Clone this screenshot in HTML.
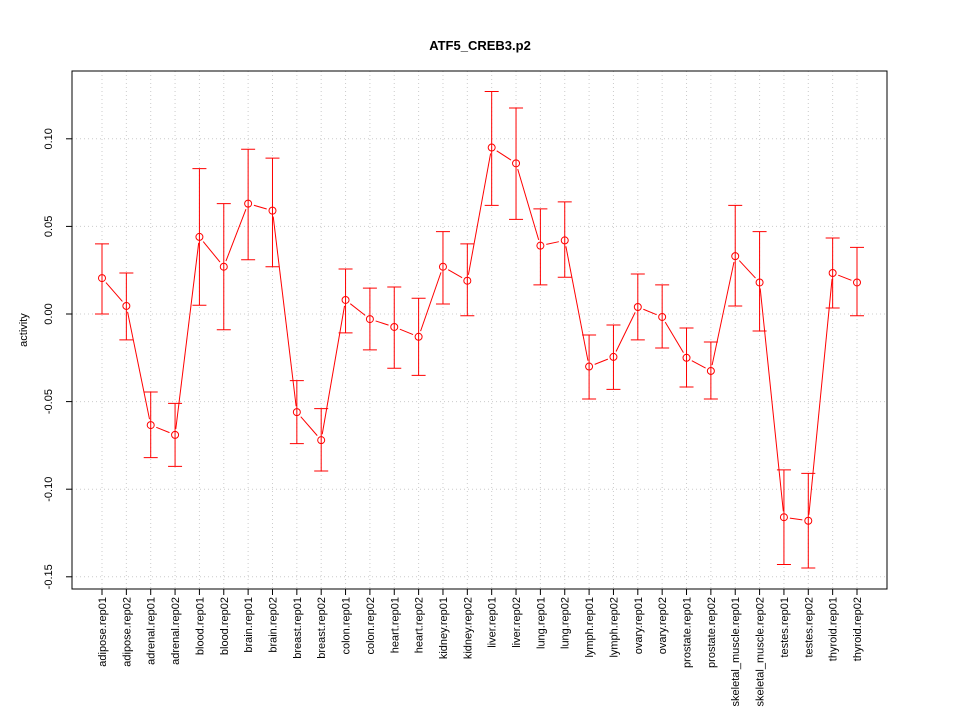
<!DOCTYPE html>
<html><head><meta charset="utf-8"><style>body{margin:0;background:#fff}svg{display:block;font-family:"Liberation Sans",sans-serif}</style></head>
<body>
<svg id="c" width="960" height="720"></svg>
<script>
const categories=["adipose.rep01","adipose.rep02","adrenal.rep01","adrenal.rep02","blood.rep01","blood.rep02","brain.rep01","brain.rep02","breast.rep01","breast.rep02","colon.rep01","colon.rep02","heart.rep01","heart.rep02","kidney.rep01","kidney.rep02","liver.rep01","liver.rep02","lung.rep01","lung.rep02","lymph.rep01","lymph.rep02","ovary.rep01","ovary.rep02","prostate.rep01","prostate.rep02","skeletal_muscle.rep01","skeletal_muscle.rep02","testes.rep01","testes.rep02","thyroid.rep01","thyroid.rep02"];
const values=[0.0205,0.0046,-0.0634,-0.069,0.044,0.027,0.063,0.059,-0.056,-0.072,0.008,-0.0029,-0.0074,-0.013,0.027,0.019,0.095,0.086,0.039,0.042,-0.030,-0.0245,0.004,-0.0017,-0.025,-0.0325,0.033,0.018,-0.116,-0.118,0.0234,0.018];
const upper=[0.040,0.0234,-0.0445,-0.051,0.083,0.063,0.094,0.089,-0.038,-0.054,0.0257,0.0148,0.0154,0.009,0.047,0.040,0.127,0.1176,0.060,0.064,-0.012,-0.0063,0.0228,0.0166,-0.008,-0.016,0.062,0.047,-0.089,-0.091,0.0434,0.038];
const lower=[0.000,-0.0148,-0.082,-0.087,0.005,-0.009,0.031,0.027,-0.074,-0.0896,-0.0108,-0.0205,-0.031,-0.035,0.0057,-0.001,0.062,0.054,0.0166,0.021,-0.0485,-0.043,-0.0148,-0.0194,-0.0417,-0.0485,0.0046,-0.0097,-0.143,-0.145,0.0034,-0.001];
const yTicks=[-0.15,-0.10,-0.05,0.00,0.05,0.10];
const yTickLabels=["-0.15","-0.10","-0.05","0.00","0.05","0.10"];
const svg=document.getElementById('c');const NS='http://www.w3.org/2000/svg';
function mk(t,a,p){const e=document.createElementNS(NS,t);for(const k in a)e.setAttribute(k,a[k]);(p||svg).appendChild(e);return e;}
const L=72,R=887,T=71,B=589;
const x=i=>102+i*(857-102)/(categories.length-1);
const y=v=>314-v*1752;
// grid
categories.forEach((c,i)=>{const g=mk('line',{x1:x(i),x2:x(i),y1:T,y2:B,stroke:'#ccc','stroke-dasharray':'1,3'});

});
yTicks.forEach(v=>{const g=mk('line',{x1:L,x2:R,y1:y(v),y2:y(v),stroke:'#ccc','stroke-dasharray':'1,3'});

});
const fr=mk('rect',{x:L,y:T,width:R-L,height:B-T,fill:'none',stroke:'#000'});


const ti=mk('text',{x:480,y:50,'text-anchor':'middle','font-size':13,'font-weight':'bold'});ti.textContent='ATF5_CREB3.p2';


const yl=mk('text',{transform:'translate(27,330) rotate(-90)','text-anchor':'middle','font-size':11});yl.textContent='activity';


yTicks.forEach((v,i)=>{mk('line',{x1:L-6,x2:L,y1:y(v),y2:y(v),stroke:'#000'});
const t=mk('text',{transform:`translate(52,${y(v)}) rotate(-90)`,'text-anchor':'middle','font-size':11});t.textContent=yTickLabels[i];

});
categories.forEach((c,i)=>{mk('line',{x1:x(i),x2:x(i),y1:B,y2:B+6,stroke:'#000'});
const t=mk('text',{transform:`translate(${x(i)+4},597) rotate(-90)`,'text-anchor':'end','font-size':11});t.textContent=c;

});
const red='#ff0000';
categories.forEach((c,i)=>{const X=x(i);
const e=mk('path',{d:`M${X},${y(upper[i])}V${y(lower[i])}M${X-7},${y(upper[i])}H${X+7}M${X-7},${y(lower[i])}H${X+7}`,stroke:red,fill:'none'});


if(i>0){const x0=x(i-1),y0=y(values[i-1]),x1=X,y1=y(values[i]);const d=Math.hypot(x1-x0,y1-y0);
if(d>12){const ux=(x1-x0)/d,uy=(y1-y0)/d;const s=mk('line',{x1:x0+ux*6,y1:y0+uy*6,x2:x1-ux*6,y2:y1-uy*6,stroke:red});

}}
const p=mk('circle',{cx:X,cy:y(values[i]),r:3.5,fill:'none',stroke:red});

});
</script>
</body></html>
